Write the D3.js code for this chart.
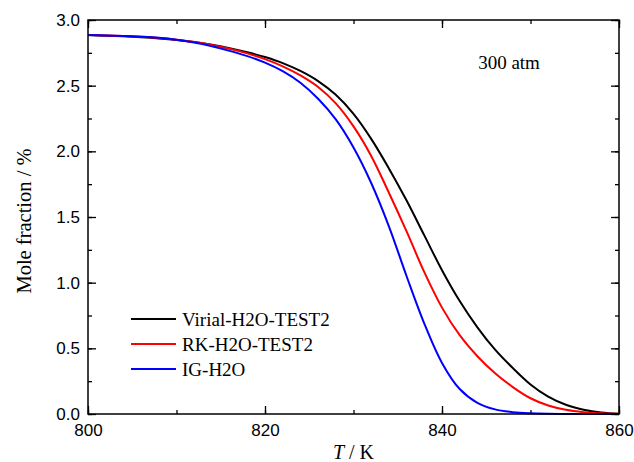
<!DOCTYPE html>
<html>
<head>
<meta charset="utf-8">
<script src="https://cdn.jsdelivr.net/npm/d3@7"></script>
<style>
  body { margin: 0; background: #fff; }
  svg { display: block; }
</style>
</head>
<body>
<svg id="chart" width="634" height="462"></svg>
<script>
// temperature grid (K)
const temps = [800, 802, 804, 806, 808, 810, 812, 814, 816, 818, 820, 822, 824, 826, 828, 830,
  832, 834, 836, 838, 840, 842, 844, 846, 848, 850, 852, 854, 856, 858, 860];

// mole fraction (%)
const virial = [2.885, 2.881, 2.876, 2.869, 2.860, 2.848, 2.832, 2.811, 2.786, 2.755, 2.718, 2.672, 2.612, 2.535, 2.430, 2.285,
  2.095, 1.870, 1.625, 1.360, 1.095, 0.860, 0.660, 0.490, 0.350, 0.225, 0.132, 0.070, 0.033, 0.011, 0.002];
const rk = [2.885, 2.882, 2.878, 2.872, 2.863, 2.850, 2.832, 2.810, 2.781, 2.746, 2.702, 2.647, 2.578, 2.490, 2.365, 2.190,
  1.965, 1.685, 1.390, 1.080, 0.810, 0.600, 0.440, 0.310, 0.205, 0.120, 0.065, 0.032, 0.014, 0.005, 0.001];
const ig = [2.885, 2.882, 2.878, 2.873, 2.865, 2.850, 2.828, 2.800, 2.765, 2.725, 2.675, 2.610, 2.522, 2.400, 2.243, 2.029,
  1.759, 1.429, 1.049, 0.689, 0.389, 0.190, 0.085, 0.035, 0.014, 0.005, 0.0015, 0.0005, 0, 0, 0];

const seriesNames = ['Virial-H2O-TEST2', 'RK-H2O-TEST2', 'IG-H2O'];
const seriesColors = ['#000000', '#ff0000', '#0000ff'];
const seriesValues = [virial, rk, ig];

const xTicks = [800, 820, 840, 860];
const yTicks = [0.0, 0.5, 1.0, 1.5, 2.0, 2.5, 3.0];
const note = '300 atm';

const margin = { top: 20, right: 15, bottom: 48, left: 88 },
  width = 634 - margin.left - margin.right,
  height = 462 - margin.top - margin.bottom;

const svg = d3.select('#chart'),
  g = svg.append('g').attr('transform', `translate(${margin.left},${margin.top})`);

const x = d3.scaleLinear().domain([800, 860]).range([0, width]),
  y = d3.scaleLinear().domain([0, 3]).range([height, 0]);

const xMinor = d3.range(800, 861, 10),
  yMinor = d3.range(0, 3.01, 0.25);

// curves
const line = d3.line()
  .x( ( d ) => x(d.t) )
  .y( ( d ) => y(Math.max(0, d.v)) )
  .curve(d3.curveCatmullRom.alpha(0.5));

seriesValues.forEach( ( vals, i ) => {
  const pts = temps.map( ( t, j ) => ({ t: t, v: vals[j] }) );
  g.append('path')
    .datum(pts)
    .attr('fill', 'none')
    .attr('stroke', seriesColors[i])
    .attr('stroke-width', 2)
    .attr('d', line);
});

// axes: ticks inside on all four sides
const tickFont = '"Liberation Sans", Arial, sans-serif';

function styleAxis( sel ) {
  sel.select('.domain').remove();
  sel.selectAll('line').attr('stroke', '#000').attr('stroke-width', 1.3);
}

g.append('g').attr('transform', `translate(0,${height})`)
  .call(d3.axisBottom(x).tickValues(xMinor).tickSize(-4).tickFormat(''))
  .call(styleAxis);
g.append('g').attr('transform', `translate(0,${height})`)
  .call(d3.axisBottom(x).tickValues(xTicks).tickSize(-8).tickPadding(10).tickFormat(d3.format('d')))
  .call(styleAxis)
  .call( ( s ) => s.selectAll('text').attr('font-family', tickFont).attr('font-size', 17).attr('fill', '#000') );

g.append('g')
  .call(d3.axisTop(x).tickValues(xMinor).tickSize(-4).tickFormat(''))
  .call(styleAxis);
g.append('g')
  .call(d3.axisTop(x).tickValues(xTicks).tickSize(-8).tickFormat(''))
  .call(styleAxis);

g.append('g')
  .call(d3.axisLeft(y).tickValues(yMinor).tickSize(-4).tickFormat(''))
  .call(styleAxis);
g.append('g')
  .call(d3.axisLeft(y).tickValues(yTicks).tickSize(-8).tickPadding(8).tickFormat(d3.format('.1f')))
  .call(styleAxis)
  .call( ( s ) => s.selectAll('text').attr('font-family', tickFont).attr('font-size', 17).attr('fill', '#000') );

g.append('g').attr('transform', `translate(${width},0)`)
  .call(d3.axisRight(y).tickValues(yMinor).tickSize(-4).tickFormat(''))
  .call(styleAxis);
g.append('g').attr('transform', `translate(${width},0)`)
  .call(d3.axisRight(y).tickValues(yTicks).tickSize(-8).tickFormat(''))
  .call(styleAxis);

// frame
g.append('rect')
  .attr('width', width)
  .attr('height', height)
  .attr('fill', 'none')
  .attr('stroke', '#000')
  .attr('stroke-width', 1.5);

// labels
const serif = '"Liberation Serif", "Times New Roman", serif';

const xl = svg.append('text')
  .attr('x', margin.left + width / 2)
  .attr('y', 459)
  .attr('text-anchor', 'middle')
  .attr('font-family', serif)
  .attr('font-size', 20);
xl.append('tspan').attr('font-style', 'italic').text('T');
xl.append('tspan').text(' / K');

svg.append('text')
  .attr('transform', `translate(31,221) rotate(-90)`)
  .attr('text-anchor', 'middle')
  .attr('font-family', serif)
  .attr('font-size', 20.5)
  .text('Mole fraction / %');

g.append('text')
  .attr('x', 509 - margin.left)
  .attr('y', 69 - margin.top)
  .attr('text-anchor', 'middle')
  .attr('font-family', serif)
  .attr('font-size', 19)
  .text(note);

// legend
const legend = g.append('g').attr('transform', `translate(${131 - margin.left},${319 - margin.top})`);
seriesNames.forEach( ( name, i ) => {
  const row = legend.append('g').attr('transform', `translate(0,${i * 25})`);
  row.append('line')
    .attr('x1', 0).attr('x2', 45)
    .attr('stroke', seriesColors[i])
    .attr('stroke-width', 2);
  row.append('text')
    .attr('x', 51)
    .attr('y', 6.5)
    .attr('font-family', serif)
    .attr('font-size', 19)
    .text(name);
});
</script>
</body>
</html>
